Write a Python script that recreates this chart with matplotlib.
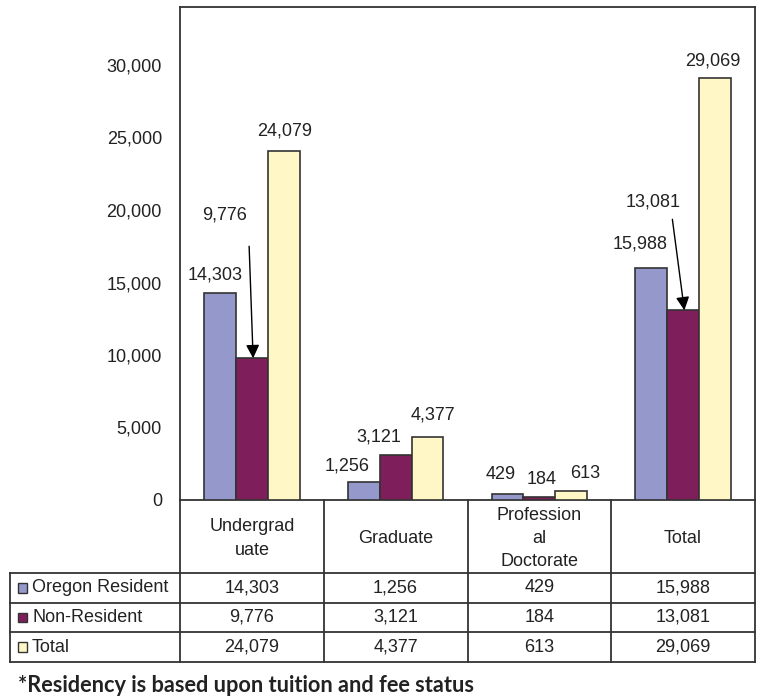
import numpy as np
import matplotlib
matplotlib.use('Agg')
import matplotlib.pyplot as plt
from matplotlib.patches import Rectangle

categories = ['Undergrad\nuate', 'Graduate', 'Profession\nal\nDoctorate', 'Total']
series_names = ['Oregon Resident', 'Non-Resident', 'Total']
oregon = [14303, 1256, 429, 15988]
non_resident = [9776, 3121, 184, 13081]
total = [24079, 4377, 613, 29069]
y_ticks = [0, 5000, 10000, 15000, 20000, 25000, 30000]
footnote = '*Residency is based upon tuition and fee status'

colors = ['#9498CB', '#7E1F5C', '#FFF8C6']
edge = '#333333'
plt.rcParams['font.family'] = ['Liberation Sans', 'DejaVu Sans']
FS = 13

# label placement (pixels, relative to bar top center); arrow = (tip dx, tip dy, start dx, start dy)
label_offsets = {
    (0, 0): (-5, 18), (0, 1): (-17, 16), (0, 2): (-7, 19), (0, 3): (-11, 24),
    (1, 0): (-27, 143), (1, 1): (-17, 18), (1, 2): (2, 18), (1, 3): (-30, 108),
    (2, 0): (1, 20), (2, 1): (5, 22), (2, 2): (14, 18), (2, 3): (-2, 17),
}
arrows = {(1, 0): (5, -6, -4, 112), (1, 3): (5, -4, -12, 91)}

W, H = 759, 698
fig = plt.figure(figsize=(W / 100, H / 100), dpi=100)
ax = fig.add_axes([180 / W, 198 / H, 575 / W, 493 / H])

data = [oregon, non_resident, total]
x = np.arange(len(categories))
bw = 0.222
for j, vals in enumerate(data):
    xs = x + (j - 1) * bw
    ax.bar(xs, vals, width=bw, color=colors[j], edgecolor=edge, linewidth=1.2, zorder=3)
    for i, v in enumerate(vals):
        dx, dy = label_offsets[(j, i)]
        ax.annotate(f'{v:,}', xy=(xs[i], v), xytext=(dx, dy), textcoords='offset pixels',
                    ha='center', va='center', fontsize=FS, color='#222222')
        if (j, i) in arrows:
            tx, ty, sx, sy = arrows[(j, i)]
            tip = ax.transData.transform((xs[i], v)) + np.array([tx, ty])
            tip = ax.transData.inverted().transform(tip)
            ax.annotate('', xy=tip, xytext=(sx, sy), textcoords='offset pixels',
                        arrowprops=dict(arrowstyle='-|>', mutation_scale=20, lw=1,
                                        color='black', shrinkA=0, shrinkB=0), zorder=5)

ax.set_xlim(-0.5, len(categories) - 0.5)
ax.set_ylim(0, 34000)
ax.set_yticks(y_ticks)
ax.set_yticklabels([f'{t:,}' for t in y_ticks], fontsize=FS, color='#222222')
ax.tick_params(axis='y', length=0, pad=13)
ax.set_xticks([])
for s in ax.spines.values():
    s.set_color(edge)
    s.set_linewidth(1.3)

# data table under the chart
col_px = 575 / len(categories)
x0 = -0.5 - 170 / col_px
tax = fig.add_axes([10 / W, 36 / H, 745 / W, 162 / H])
tax.set_xlim(x0, len(categories) - 0.5)
tax.set_ylim(162, 0)
tax.axis('off')
rows_y = [73, 102.7, 132.3, 162]
lk = dict(color=edge, lw=1.3, clip_on=False)
for xv in np.arange(len(categories) + 1) - 0.5:
    tax.plot([xv, xv], [0, 162], **lk)
tax.plot([x0, x0], [rows_y[0], 162], **lk)
for yv in rows_y:
    tax.plot([x0, len(categories) - 0.5], [yv, yv], **lk)

for i, c in enumerate(categories):
    tax.text(i, rows_y[0] / 2 + 2, c, ha='center', va='center', fontsize=FS,
             linespacing=1.5, color='#222222')

sq = 9.5 / col_px
for j, name in enumerate(series_names):
    yc = (rows_y[j] + rows_y[j + 1]) / 2
    tax.add_patch(Rectangle((x0 + 8 / col_px, yc - 4.75), sq, 9.5, facecolor=colors[j],
                            edgecolor=edge, lw=1, clip_on=False))
    tax.text(x0 + 22 / col_px, yc, name, ha='left', va='center', fontsize=FS, color='#222222')
    for i, v in enumerate(data[j]):
        tax.text(i, yc, f'{v:,}', ha='center', va='center', fontsize=FS, color='#222222')

fig.text(18 / W, 1 - 685 / H, footnote, ha='left', va='center', fontsize=15.7,
         fontweight='bold', family=['Lato', 'DejaVu Sans'], color='#222222')

fig.savefig('out.png', dpi=100)
